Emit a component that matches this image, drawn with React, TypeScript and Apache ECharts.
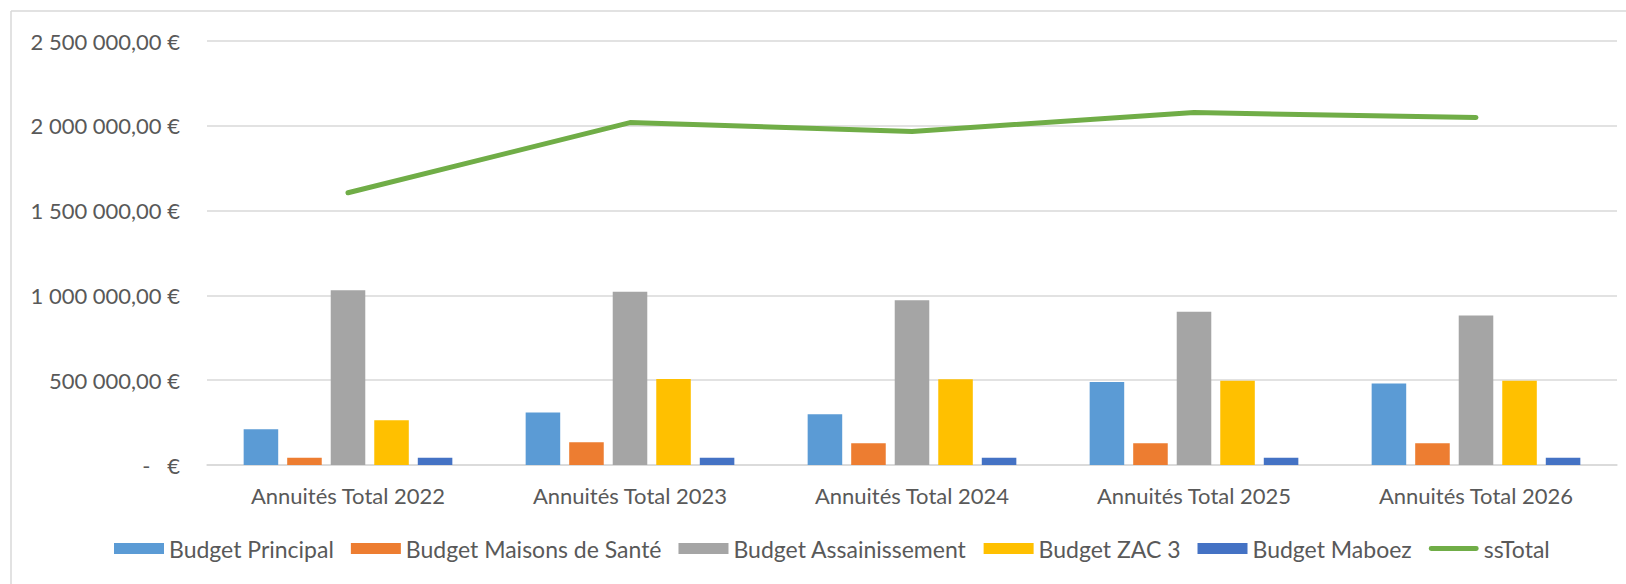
import React, { useEffect, useRef } from "react";
import * as echarts from "echarts";

const CATEGORIES = [
  "Annuités Total 2022",
  "Annuités Total 2023",
  "Annuités Total 2024",
  "Annuités Total 2025",
  "Annuités Total 2026",
];
const BUDGET_PRINCIPAL = [211000, 310000, 299000, 489000, 481000];
const BUDGET_MAISONS_SANTE = [43000, 134000, 128000, 128000, 128000];
const BUDGET_ASSAINISSEMENT = [1030000, 1022000, 972000, 904000, 882000];
const BUDGET_ZAC3 = [264000, 507000, 505000, 497000, 497000];
const BUDGET_MABOEZ = [43000, 43000, 43000, 43000, 43000];
const SS_TOTAL = [1605000, 2019000, 1967000, 2078000, 2049000];

const Y_MIN = 0;
const Y_MAX = 2500000;
const Y_INTERVAL = 500000;

const FONT = "Lato";
const TEXT_COLOR = "#595959";

function formatEuro(v: number): string {
  if (v === 0) return "-   €";
  const s = Math.round(v).toString().replace(/\B(?=(\d{3})+(?!\d))/g, " ");
  return s + ",00 €";
}

export default function App() {
  const ref = useRef<HTMLDivElement>(null);
  useEffect(() => {
    if (!ref.current) return;
    const chart = echarts.init(ref.current, null, { renderer: "svg" });
    const barNames = [
      "Budget Principal",
      "Budget Maisons de Santé",
      "Budget Assainissement",
      "Budget ZAC 3",
      "Budget Maboez",
    ];
    const barData = [
      BUDGET_PRINCIPAL,
      BUDGET_MAISONS_SANTE,
      BUDGET_ASSAINISSEMENT,
      BUDGET_ZAC3,
      BUDGET_MABOEZ,
    ];
    const barColors = ["#5B9BD5", "#ED7D31", "#A5A5A5", "#FFC000", "#4472C4"];
    chart.setOption({
      animation: false,
      backgroundColor: "#FFFFFF",
      textStyle: { fontFamily: FONT },
      grid: { left: 207, right: 9, top: 41, bottom: 119, containLabel: false },
      graphic: [
        {
          type: "line",
          shape: { x1: 11, y1: 11, x2: 1626, y2: 11 },
          style: { stroke: "#D9D9D9", lineWidth: 1.5 },
        },
        {
          type: "line",
          shape: { x1: 11, y1: 11, x2: 11, y2: 584 },
          style: { stroke: "#D9D9D9", lineWidth: 1.5 },
        },
      ],
      legend: {
        left: 114,
        top: 537,
        padding: 0,
        itemWidth: 50,
        itemHeight: 11,
        itemGap: 17,
        textStyle: { fontFamily: FONT, fontSize: 23, color: TEXT_COLOR },
        data: [
          ...barNames.map((n) => ({ name: n, icon: "rect" })),
          { name: "ssTotal", icon: "path://M2,0 L48,0 A2.5,2.5 0 0 1 48,5 L2,5 A2.5,2.5 0 0 1 2,0 Z" },
        ],
      },
      xAxis: {
        type: "category",
        data: CATEGORIES,
        axisLine: { show: true, lineStyle: { color: "#D9D9D9", width: 1.5 } },
        axisTick: { show: false },
        axisLabel: {
          fontFamily: FONT,
          fontSize: 22,
          color: TEXT_COLOR,
          margin: 19,
        },
      },
      yAxis: {
        type: "value",
        min: Y_MIN,
        max: Y_MAX,
        interval: Y_INTERVAL,
        axisLine: { show: false },
        axisTick: { show: false },
        splitLine: { lineStyle: { color: "#D9D9D9", width: 1.5 } },
        axisLabel: {
          fontFamily: FONT,
          fontSize: 22,
          color: TEXT_COLOR,
          margin: 27,
          formatter: (v: number) => formatEuro(v),
        },
      },
      series: [
        ...barNames.map((n, i) => ({
          name: n,
          type: "bar",
          data: barData[i],
          barGap: "26%",
          barCategoryGap: "26%",
          itemStyle: { color: barColors[i] },
        })),
        {
          name: "ssTotal",
          type: "line",
          data: SS_TOTAL,
          symbol: "none",
          lineStyle: { color: "#70AD47", width: 5, cap: "round", join: "round" },
          itemStyle: { color: "#70AD47" },
        },
      ],
    });
    return () => chart.dispose();
  }, []);
  return (
    <div
      ref={ref}
      style={{ position: "absolute", left: 0, top: 0, width: 1626, height: 584 }}
    />
  );
}
